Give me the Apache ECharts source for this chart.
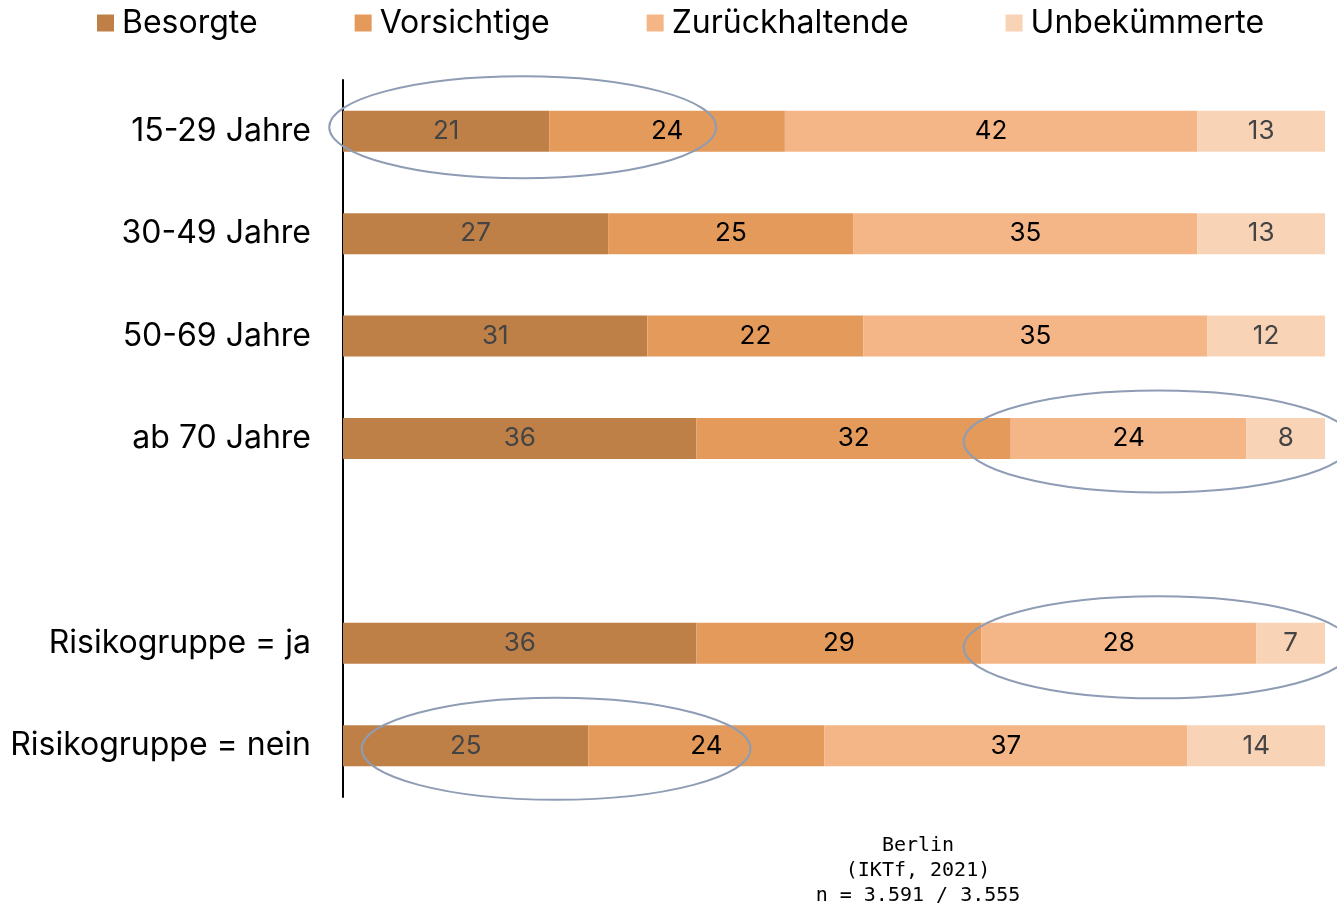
<!DOCTYPE html>
<html>
<head>
<meta charset="utf-8">
<script src="https://cdn.jsdelivr.net/npm/echarts@6/dist/echarts.min.js"></script>
<style>
  html, body { margin: 0; padding: 0; background: #fff; }
  #chart { width: 1337px; height: 905px; }
</style>
</head>
<body>
<div id="chart"></div>
<script>
// Kategorien von oben nach unten ('' = Leerzeile)
const categories = ['15-29 Jahre', '30-49 Jahre', '50-69 Jahre', 'ab 70 Jahre', '', 'Risikogruppe = ja', 'Risikogruppe = nein'];
const besorgte       = [21, 27, 31, 36, null, 36, 25];
const vorsichtige    = [24, 25, 22, 32, null, 29, 24];
const zurueckhaltend = [42, 35, 35, 24, null, 28, 37];
const unbekuemmert   = [13, 13, 12, 8, null, 7, 14];
const seriesNames = ['Besorgte', 'Vorsichtige', 'Zurückhaltende', 'Unbekümmerte'];
const colors = ['#bf8047', '#e39a5a', '#f5b687', '#f8d3b6'];
const labelColors = ['#444444', '#000000', '#000000', '#444444'];
// Markierungen: Kategorie, Mittelpunkt (Wert), halbe Breite (Wert), vertikaler Versatz
const highlights = [
  ['15-29 Jahre', 18.3, 19.7, -4],
  ['ab 70 Jahre', 83, 19.8, 3],
  ['Risikogruppe = ja', 83, 19.8, 4],
  ['Risikogruppe = nein', 21.7, 19.8, 3]
];

const font = 'Inter, Roboto, sans-serif';
const allData = [besorgte, vorsichtige, zurueckhaltend, unbekuemmert];

const chart = echarts.init(document.getElementById('chart'));
const option = {
  backgroundColor: '#fff',
  animation: false,
  legend: {
    top: 2,
    left: 92,
    itemWidth: 17,
    itemHeight: 17,
    itemGap: 97,
    icon: 'rect',
    textStyle: { fontFamily: font, fontSize: 32, color: '#000', padding: [0, 0, 0, 3] },
    data: seriesNames
  },
  grid: { top: 80, bottom: 108, left: 343, right: 12 },
  xAxis: {
    type: 'value',
    min: 0,
    max: 100,
    show: false
  },
  yAxis: {
    type: 'category',
    inverse: true,
    data: categories,
    axisLine: { show: true, lineStyle: { color: '#000', width: 2 } },
    axisTick: { show: false },
    axisLabel: { fontFamily: font, fontSize: 32, color: '#000', margin: 32 }
  },
  series: seriesNames.map((name, i) => ({
    name: name,
    type: 'bar',
    stack: 'all',
    barWidth: 41,
    data: allData[i],
    itemStyle: { color: colors[i] },
    label: {
      show: true,
      position: 'inside',
      fontFamily: font,
      fontSize: 26,
      color: labelColors[i]
    }
  }))
};
chart.setOption(option);

// Ellipsen über Datenkoordinaten positionieren
const ellipses = highlights.map(([cat, cx, hw, dy]) => {
  const c = chart.convertToPixel({ gridIndex: 0 }, [cx, cat]);
  const e = chart.convertToPixel({ gridIndex: 0 }, [cx + hw, cat]);
  return {
    type: 'ellipse',
    shape: { cx: c[0], cy: c[1] + dy, rx: e[0] - c[0], ry: 51 },
    style: { fill: null, stroke: '#8e9cb4', lineWidth: 2 },
    z: 10
  };
});
chart.setOption({
  graphic: ellipses.concat([{
    type: 'text',
    x: 918,
    y: 833,
    style: {
      text: 'Berlin\n(IKTf, 2021)\nn = 3.591 / 3.555',
      fontFamily: '"DejaVu Sans Mono", monospace',
      fontSize: 20,
      lineHeight: 25,
      align: 'center',
      fill: '#000'
    }
  }])
});
window.addEventListener('resize', function () { chart.resize(); });
</script>
</body>
</html>
